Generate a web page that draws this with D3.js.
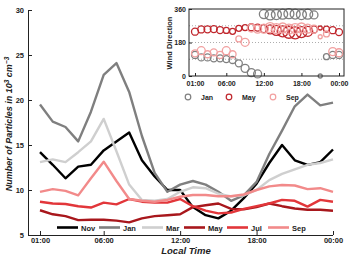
<!DOCTYPE html>
<html><head><meta charset="utf-8">
<script src="https://cdn.jsdelivr.net/npm/d3@7"></script>
<style>
html,body{margin:0;padding:0;background:#fff;}
svg text{font-family:"Liberation Sans",Arial,sans-serif;font-weight:bold;}
</style></head>
<body><svg id="c" width="349" height="255"></svg>
<script>
const hours = ["01:00","02:00","03:00","04:00","05:00","06:00","07:00","08:00","09:00","10:00","11:00","12:00","13:00","14:00","15:00","16:00","17:00","18:00","19:00","20:00","21:00","22:00","23:00","00:00"];
const tickLabels = ["01:00","06:00","12:00","18:00","00:00"];
const yTicks = [5,10,15,20,25,30];
const seriesNames = ["Nov","Jan","Mar","May","Jul","Sep"];
const nov = [14.2,12.8,11.3,12.6,12.8,14.4,15.4,16.4,13.3,11.5,10.0,10.0,8.1,7.2,6.85,7.7,9.1,10.7,13.0,15.0,13.3,12.8,13.1,14.5];
const jan = [19.5,17.6,17.0,15.4,18.7,22.8,24.1,20.9,16.0,11.9,9.8,10.6,11.0,10.6,9.8,8.8,9.4,10.9,14.0,16.6,19.3,20.6,19.4,19.7];
const mar = [13.1,13.4,13.1,14.2,15.4,17.9,14.3,10.6,8.9,8.8,9.0,9.8,10.3,10.2,9.6,9.3,9.4,10.0,11.1,11.8,12.3,12.8,13.0,13.4];
const may = [7.75,7.3,7.1,6.65,6.7,6.7,6.6,6.4,6.85,7.1,7.2,7.3,8.1,8.3,8.5,7.9,7.85,8.1,8.5,8.2,7.95,7.8,7.8,7.7];
const jul = [8.7,8.5,8.45,8.2,8.05,8.6,8.4,9.0,8.7,8.6,8.6,9.0,8.2,7.7,7.4,7.5,7.9,8.2,8.5,8.9,8.8,8.15,8.9,8.7];
const sep = [9.8,10.1,9.9,9.4,11.3,13.15,11.0,9.0,8.8,8.7,8.9,9.25,9.45,9.45,9.3,9.3,9.5,10.0,10.4,10.55,10.5,10.1,10.2,9.8];
const colors = ["#000000","#7f7f7f","#cfcfcf","#a8171c","#e2363a","#f28a8a"];

// inset: wind direction
const dirNames = ["Jan","May","Sep"];
const dirTicks = [0,180,360];
const janDir = [113,100,100,95,95,91,86,68,41,18,11,333,328,330,332,335,333,330,332,328,0,104,113,113];
const mayDir = [238,250,251,252,247,245,240,256,260,262,260,255,250,245,240,235,232,236,240,250,258,252,246,236];
const sepDir = [122,136,117,127,113,136,117,199,181,258,252,255,260,255,258,252,255,258,255,252,211,226,131,125];
const janR = [3.5,3.5,3.5,3.5,3.5,3.5,3.5,3.5,4,4,4,4.5,5,5,5,5,5,5,5,4,2,3,3.5,3.5];
const mayR = [3.5,3.5,3.5,3.5,3.5,3,3,3,3,3.5,3.5,4,4.5,5,5.5,6,6,5.5,5,3.5,2,3,3.5,3.5];
const sepR = [3.5,4,3.5,3.5,3.5,4,3.5,3,4,4,4,4.5,5,5,5,5,5,5,4.5,4,2,3,4,4];
const dirColors = ["#808080","#c0272d","#f2a0a0"];

const svg = d3.select("#c");
const series = [nov,jan,mar,may,jul,sep];

// main scales
const x = d3.scaleLinear().domain([0,23]).range([40,333]);
const y = d3.scaleLinear().domain([5,30]).range([235,10]);
const tickIdx = tickLabels.map(t=>hours.indexOf(t));

// axes
const gx = svg.append("g").attr("transform","translate(0,235)")
  .call(d3.axisBottom(x).tickValues(tickIdx).tickFormat((d,i)=>tickLabels[i]).tickSize(-4).tickSizeOuter(0).tickPadding(3));
gx.select(".domain").attr("d","M28,0.5H333");
const gy = svg.append("g").attr("transform","translate(28,0)")
  .call(d3.axisLeft(y).tickValues(yTicks).tickSize(-4).tickSizeOuter(0).tickPadding(4));
[gx,gy].forEach(g=>{g.selectAll("text").attr("font-size","7.5px").attr("fill","#222");
  g.selectAll("line,path").attr("stroke","#222").attr("stroke-width",1);});

// lines
const line = d3.line().x((d,i)=>x(i)).y(d=>y(d));
series.forEach((s,k)=>{
  svg.append("path").datum(s).attr("d",line).attr("fill","none")
    .attr("stroke",colors[k]).attr("stroke-width",2.4).attr("stroke-linejoin","round");
});

// main legend
const legX = [57,99,142,184,227,268];
seriesNames.forEach((n,k)=>{
  svg.append("line").attr("x1",legX[k]).attr("x2",legX[k]+21).attr("y1",227.5).attr("y2",227.5)
    .attr("stroke",colors[k]).attr("stroke-width",2.6);
  svg.append("text").attr("x",legX[k]+24).attr("y",230.5).attr("font-size","7.5px").attr("fill","#222").text(n);
});

// axis titles
svg.append("text").attr("x",186).attr("y",254).attr("text-anchor","middle")
  .attr("font-size","9.5px").attr("font-style","italic").attr("fill","#222").text("Local Time");
const yt = svg.append("text").attr("transform","translate(12,124) rotate(-90)").attr("text-anchor","middle")
  .attr("font-size","9px").attr("font-style","italic").attr("fill","#222");
yt.append("tspan").text("Number of Particles in 10");
yt.append("tspan").attr("dy","-3.5").attr("font-size","6.5px").text("3");
yt.append("tspan").attr("dy","3.5").text(" cm");
yt.append("tspan").attr("dy","-3.5").attr("font-size","6.5px").text("−3");

// inset
const ix = d3.scaleLinear().domain([0,23]).range([195,339]);
const iy = d3.scaleLinear().domain([0,360]).range([76,9]);
const ins = svg.append("g");
ins.append("rect").attr("x",189).attr("y",9).attr("width",155).attr("height",67).attr("fill","#fff");
[90,180,270].forEach(v=>{
  ins.append("line").attr("x1",189).attr("x2",344).attr("y1",iy(v)).attr("y2",iy(v))
    .attr("stroke","#999").attr("stroke-width",0.8).attr("stroke-dasharray","1,2");
});
const dirs = [janDir,mayDir,sepDir], rads = [janR,mayR,sepR];
dirs.forEach((d,k)=>{
  ins.selectAll(null).data(d).enter().append("circle")
    .attr("cx",(v,i)=>ix(i)).attr("cy",v=>iy(v)).attr("r",(v,i)=>rads[k][i])
    .attr("fill","none").attr("stroke",dirColors[k]).attr("stroke-width",1.3);
});
ins.append("rect").attr("x",189).attr("y",9).attr("width",155).attr("height",67)
  .attr("fill","none").attr("stroke","#222").attr("stroke-width",1);
const igx = ins.append("g").attr("transform","translate(0,76)")
  .call(d3.axisBottom(ix).tickValues(tickIdx).tickFormat((d,i)=>tickLabels[i]).tickSize(-3).tickSizeOuter(0).tickPadding(5));
const igy = ins.append("g").attr("transform","translate(189,0)")
  .call(d3.axisLeft(iy).tickValues(dirTicks).tickSize(-3).tickSizeOuter(0).tickPadding(3));
[igx,igy].forEach(g=>{g.select(".domain").remove();
  g.selectAll("text").attr("font-size","7px").attr("fill","#222");
  g.selectAll("line").attr("stroke","#222");});
ins.append("text").attr("transform","translate(172,43) rotate(-90)").attr("text-anchor","middle")
  .attr("font-size","7.5px").attr("fill","#222").text("Wind Direction");
const ilx = [188,229,273];
dirNames.forEach((n,k)=>{
  ins.append("circle").attr("cx",ilx[k]).attr("cy",97).attr("r",2.8).attr("fill","none")
    .attr("stroke",dirColors[k]).attr("stroke-width",1.2);
  ins.append("text").attr("x",ilx[k]+13).attr("y",99.5).attr("font-size","7px").attr("fill","#222").text(n);
});
</script></body></html>
